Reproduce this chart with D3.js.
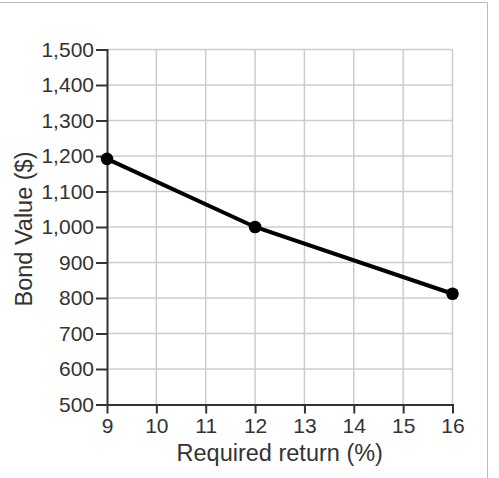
<!DOCTYPE html>
<html>
<head>
<meta charset="utf-8">
<script src="https://cdn.jsdelivr.net/npm/d3@7"></script>
<style>
  body { margin: 0; background: #fff; }
  svg { display: block; font-family: "Liberation Sans", Arial, sans-serif; }
  .grid line { stroke: #ccc; stroke-width: 1.5; }
  .axis path, .axis line { stroke: #333; stroke-width: 2; }
  .axis text { fill: #333; font-size: 21px; }
  .title { fill: #333; font-size: 23.5px; }
</style>
</head>
<body>
<div id="chart"></div>
<script>
// required return (%) and bond value ($)
const returns = [9, 12, 16];
const bondValues = [1192, 1000, 812];
const xTicks = [9, 10, 11, 12, 13, 14, 15, 16];
const yTicks = [500, 600, 700, 800, 900, 1000, 1100, 1200, 1300, 1400, 1500];

const width = 499,
    height = 478;
const margin = {top: 49.5, right: 46.5, bottom: 73.5, left: 107};

const svg = d3.select('#chart')
    .append("svg")
    .attr("width", width)
    .attr("height", height);

// frame round the figure
svg.append("path")
    .attr("d", "M0,2.5H487.5V" + height)
    .attr("fill", "none")
    .attr("stroke", "#bbb")
    .attr("stroke-width", 1);

const x = d3.scaleLinear()
    .domain([9, 16])
    .range([margin.left, width - margin.right]);
const y = d3.scaleLinear()
    .domain([500, 1500])
    .range([height - margin.bottom, margin.top]);

// grid
const grid = svg.append("g").attr("class", "grid");
grid.selectAll("line.v")
  .data(xTicks.slice(1))
  .enter().append("line")
    .attr("x1", d => x(d)).attr("x2", d => x(d))
    .attr("y1", y(500)).attr("y2", y(1500));
grid.selectAll("line.h")
  .data(yTicks.slice(1))
  .enter().append("line")
    .attr("x1", x(9)).attr("x2", x(16))
    .attr("y1", d => y(d)).attr("y2", d => y(d));

// axes
svg.append("g")
    .attr("class", "axis")
    .attr("transform", "translate(0," + y(500) + ")")
    .call(d3.axisBottom(x).tickValues(xTicks).tickSize(9).tickSizeOuter(0).tickPadding(5)
      .tickFormat(d3.format("d")));

svg.append("g")
    .attr("class", "axis")
    .attr("transform", "translate(" + x(9) + ",0)")
    .call(d3.axisLeft(y).tickValues(yTicks).tickSize(11).tickSizeOuter(0).tickPadding(2)
      .tickFormat(d3.format(",")));

svg.selectAll(".axis .domain").attr("stroke-linecap", "square");

// titles
svg.append("text")
    .attr("class", "title")
    .attr("x", (x(9) + x(16)) / 2)
    .attr("y", 461)
    .attr("text-anchor", "middle")
    .text("Required return (%)");

svg.append("text")
    .attr("class", "title")
    .attr("transform", "translate(32," + 229 + ") rotate(-90)")
    .attr("text-anchor", "middle")
    .text("Bond Value ($)");

// line and points
const pts = returns.map((r, i) => ({r: r, v: bondValues[i]}));

svg.append("path")
    .datum(pts)
    .attr("fill", "none")
    .attr("stroke", "#000")
    .attr("stroke-width", 4)
    .attr("d", d3.line().x(d => x(d.r)).y(d => y(d.v)));

svg.selectAll("circle.point")
  .data(pts)
  .enter().append("circle")
    .classed("point", true)
    .attr("cx", d => x(d.r))
    .attr("cy", d => y(d.v))
    .attr("r", 6.3)
    .attr("fill", "#000");
</script>
</body>
</html>
